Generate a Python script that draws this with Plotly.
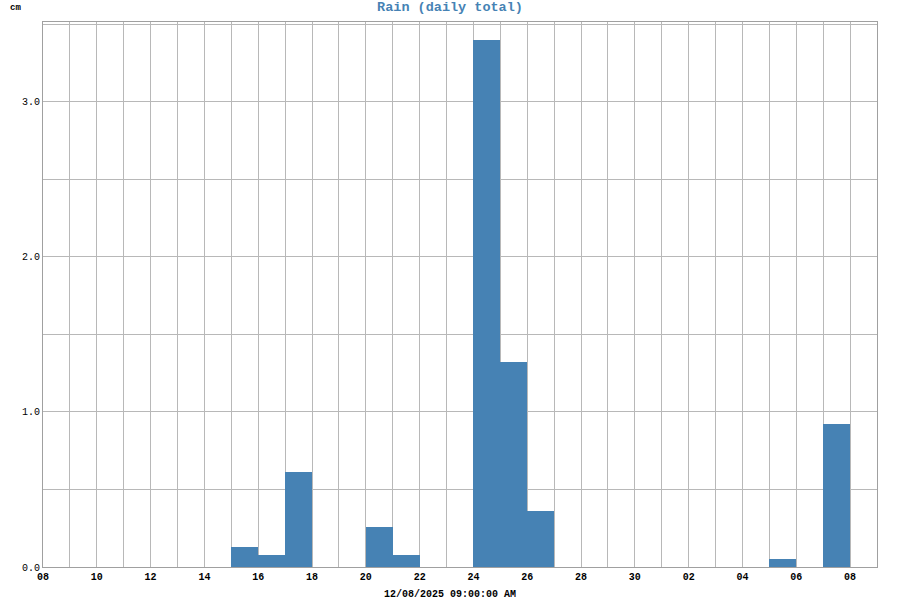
import plotly.graph_objects as go
import pandas as pd

days = pd.date_range("2025-11-08", "2025-12-08", freq="D").strftime("%Y-%m-%d").tolist()
rain_cm = [0, 0, 0, 0, 0, 0, 0, 0.13, 0.08, 0.61, 0, 0, 0.26, 0.08, 0, 0,
           3.40, 1.32, 0.36, 0, 0, 0, 0, 0, 0, 0, 0, 0.05, 0, 0.92, 0]

title_text = "Rain (daily total)"
unit_text = "cm"
x_title = "12/08/2025 09:00:00 AM"

FONT = "Liberation Mono, Courier New, monospace"
BLUE = "#4682B4"
GRID = "#b8b8b8"
AXIS = "#a0a0a0"

fig = go.Figure()
fig.add_trace(go.Bar(
    x=days, y=rain_cm,
    offset=0, width=86400000,
    marker=dict(color=BLUE, line=dict(width=0)),
    hovertemplate="%{x|%m/%d}: %{y:.2f} cm<extra></extra>",
))

fig.update_layout(
    width=900, height=600,
    margin=dict(l=43, r=23, t=22, b=33),
    paper_bgcolor="white", plot_bgcolor="white",
    showlegend=False,
    bargap=0,
    font=dict(family=FONT, size=10, color="black"),
    title=dict(text="<b>" + title_text + "</b>", x=0.5, xanchor="center",
               y=0.997, yanchor="top",
               font=dict(family=FONT, size=13.5, color=BLUE)),
    annotations=[
        dict(text="<b>" + unit_text + "</b>", xref="paper", yref="paper",
             x=-43/834, y=1 + 22/545, xanchor="left", yanchor="top",
             showarrow=False, xshift=8, yshift=-1,
             font=dict(family=FONT, size=9, color="black")),
        dict(text="<b>" + x_title + "</b>", xref="paper", yref="paper",
             x=0.5, y=0, xanchor="center", yanchor="top",
             showarrow=False, yshift=-20, xshift=-10,
             font=dict(family=FONT, size=10, color="black")),
    ],
)

fig.update_xaxes(
    type="date",
    range=["2025-11-08", "2025-12-09"],
    dtick=2 * 86400000, tick0="2025-11-08",
    tickformat="<b>%d</b>",
    showgrid=True, gridcolor=GRID, gridwidth=1,
    minor=dict(dtick=86400000, showgrid=True, gridcolor=GRID, gridwidth=1),
    showline=True, linecolor=AXIS, linewidth=1, mirror=True,
    ticks="", zeroline=False,
    tickfont=dict(family=FONT, size=10, color="black"),
)
fig.update_yaxes(
    range=[0, 3.516],
    dtick=1, tick0=0, tickformat=".1f",
    showgrid=True, gridcolor=GRID, gridwidth=1,
    minor=dict(dtick=0.5, showgrid=True, gridcolor=GRID, gridwidth=1),
    showline=True, linecolor=AXIS, linewidth=1, mirror=True,
    ticks="", zeroline=False,
    tickfont=dict(family=FONT, size=10, color="black"),
)

fig.write_html("out.html", config={"displayModeBar": False},
               post_script="document.body.style.margin='0';document.body.style.overflow='hidden';")
